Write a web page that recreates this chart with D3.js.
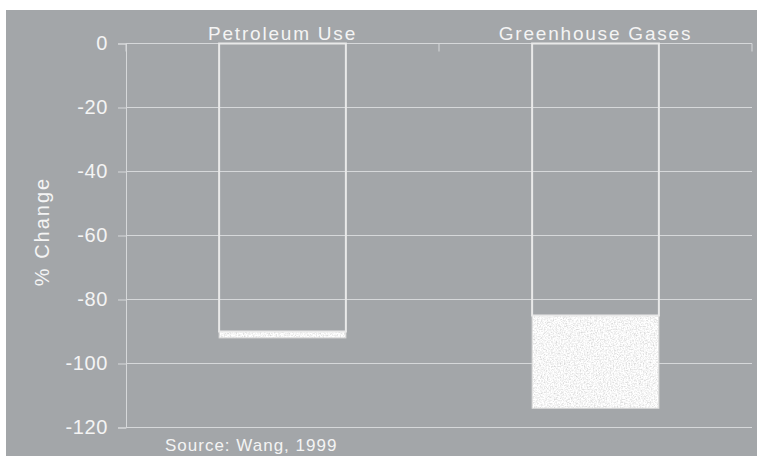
<!DOCTYPE html>
<html>
<head>
<meta charset="utf-8">
<script src="https://cdn.jsdelivr.net/npm/d3@7"></script>
<style>
  body { margin: 0; background: #ffffff; }
  text { font-family: 'Liberation Sans', Arial, sans-serif; fill: #f4f4f4; }
</style>
</head>
<body>
<div id="chart"></div>
<script>
// data
const categories = ['Petroleum Use', 'Greenhouse Gases']
const baseValues = [-90, -85]      // outlined part of each bar
const rangeLow = [-90, -85]        // textured part, top
const rangeHigh = [-92, -114]      // textured part, bottom
const yTicks = [0, -20, -40, -60, -80, -100, -120]

const W = 757, H = 456
const MARGIN = { LEFT: 126, RIGHT: 5, TOP: 43.5, BOTTOM: 28.5 }
const WIDTH = W - MARGIN.LEFT - MARGIN.RIGHT
const HEIGHT = H - MARGIN.TOP - MARGIN.BOTTOM

const svg = d3.select('#chart')
  .append('svg')
  .attr('width', W)
  .attr('height', H)

// grainy fill for the range part
const defs = svg.append('defs')
const filt = defs.append('filter')
  .attr('id', 'grain')
  .attr('x', 0).attr('y', 0).attr('width', 1).attr('height', 1)
filt.append('feTurbulence')
  .attr('type', 'fractalNoise')
  .attr('baseFrequency', 0.7)
  .attr('numOctaves', 2)
  .attr('seed', 4)
  .attr('result', 'noise')
filt.append('feColorMatrix')
  .attr('in', 'noise')
  .attr('type', 'matrix')
  .attr('values', '0.7 0 0 0 0.57  0.7 0 0 0 0.57  0.7 0 0 0 0.57  0 0 0 0 1')
  .attr('result', 'gray')
filt.append('feComposite')
  .attr('in', 'gray')
  .attr('in2', 'SourceAlpha')
  .attr('operator', 'in')

// panel background
svg.append('rect')
  .attr('x', 6).attr('y', 10)
  .attr('width', W - 6).attr('height', H - 10)
  .attr('fill', '#a3a6a9')

const g = svg.append('g')
  .attr('transform', `translate(${MARGIN.LEFT}, ${MARGIN.TOP})`)

const x = d3.scaleBand()
  .domain(categories)
  .range([0, WIDTH])

const y = d3.scaleLinear()
  .domain([0, -120])
  .range([0, HEIGHT])

// gridlines
g.append('g')
  .selectAll('line')
  .data(yTicks)
  .enter()
  .append('line')
  .attr('x1', 0)
  .attr('x2', WIDTH)
  .attr('y1', d => y(d))
  .attr('y2', d => y(d))
  .attr('stroke', '#d6d8da')
  .attr('stroke-width', 1)

// y axis
const yAxisCall = d3.axisLeft(y)
  .tickValues(yTicks)
  .tickSize(8)
  .tickPadding(10)
  .tickFormat(d => d)
const yAxis = g.append('g').attr('class', 'y axis').call(yAxisCall)
yAxis.select('.domain').attr('stroke', '#d6d8da')
yAxis.selectAll('.tick line').attr('stroke', '#d6d8da')
yAxis.selectAll('text')
  .attr('font-size', '20px')
  .attr('letter-spacing', '0.6px')
  .attr('fill', '#f4f4f4')
  .attr('font-family', "'Liberation Sans', Arial, sans-serif")

// category ticks on the zero line
const edges = categories.map(c => x(c)).concat([x.range()[1]])
g.append('g')
  .selectAll('line')
  .data(edges)
  .enter()
  .append('line')
  .attr('x1', d => d)
  .attr('x2', d => d)
  .attr('y1', y(0))
  .attr('y2', y(0) + 8)
  .attr('stroke', '#d6d8da')

// category labels above the plot
g.selectAll('.cat-label')
  .data(categories)
  .enter()
  .append('text')
  .attr('class', 'cat-label')
  .attr('x', d => x(d) + x.bandwidth() / 2)
  .attr('y', -4)
  .attr('text-anchor', 'middle')
  .attr('font-size', '19px')
  .attr('letter-spacing', '1.8px')
  .text(d => d)

const barW = x.bandwidth() * 0.405
const barX = i => x(categories[i]) + (x.bandwidth() - barW) / 2

// textured range part
g.selectAll('.range')
  .data(categories)
  .enter()
  .append('rect')
  .attr('class', 'range')
  .attr('x', (d, i) => barX(i))
  .attr('y', (d, i) => y(rangeLow[i]))
  .attr('width', barW)
  .attr('height', (d, i) => y(rangeHigh[i]) - y(rangeLow[i]))
  .attr('fill', '#eeeeee')
  .attr('filter', 'url(#grain)')
g.selectAll('.range-edge')
  .data(categories)
  .enter()
  .append('rect')
  .attr('class', 'range-edge')
  .attr('x', (d, i) => barX(i))
  .attr('y', (d, i) => y(rangeLow[i]))
  .attr('width', barW)
  .attr('height', (d, i) => y(rangeHigh[i]) - y(rangeLow[i]))
  .attr('fill', 'none')
  .attr('stroke', '#d9d9d9')
  .attr('stroke-width', 1)

// outlined base part
g.selectAll('.base')
  .data(categories)
  .enter()
  .append('rect')
  .attr('class', 'base')
  .attr('x', (d, i) => barX(i))
  .attr('y', y(0))
  .attr('width', barW)
  .attr('height', (d, i) => y(baseValues[i]) - y(0))
  .attr('fill', 'none')
  .attr('stroke', '#e9e9e9')
  .attr('stroke-width', 2)

// y label
svg.append('text')
  .attr('transform', `translate(49, ${MARGIN.TOP + HEIGHT / 2 - 4}) rotate(-90)`)
  .attr('text-anchor', 'middle')
  .attr('font-size', '20px')
  .attr('letter-spacing', '2px')
  .text('%  Change')

// source note
svg.append('text')
  .attr('x', 165)
  .attr('y', 451)
  .attr('font-size', '17px')
  .attr('letter-spacing', '1px')
  .text('Source: Wang, 1999')
</script>
</body>
</html>
